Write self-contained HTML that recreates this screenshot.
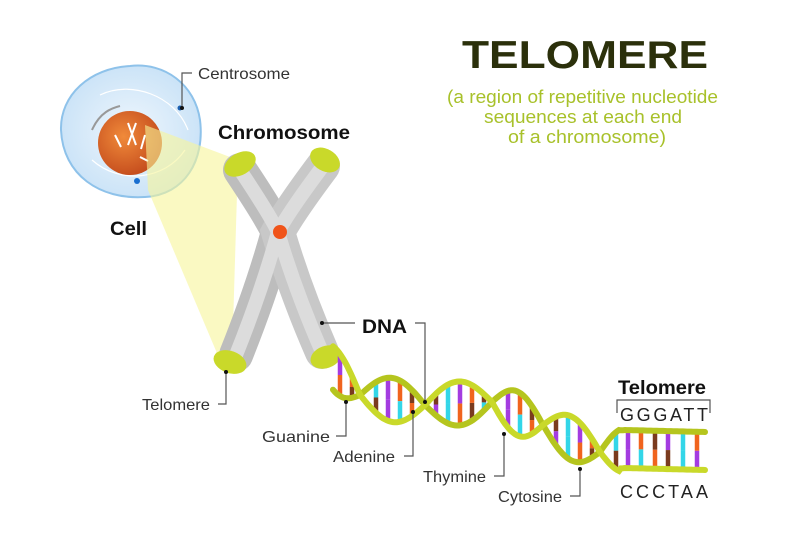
<!DOCTYPE html>
<html><head><meta charset="utf-8"><style>
html,body{margin:0;padding:0;background:#fff;width:800px;height:535px;overflow:hidden}
svg{display:block}
text{font-family:"Liberation Sans",Arial,sans-serif}
</style></head><body>
<svg id="s" width="800" height="535" viewBox="0 0 800 535" xmlns="http://www.w3.org/2000/svg">
<defs>
<radialGradient id="nuc" cx="0.4" cy="0.4" r="0.7"><stop offset="0" stop-color="#f08a3a"/><stop offset="1" stop-color="#c0461a"/></radialGradient>
<radialGradient id="cell" cx="0.5" cy="0.5" r="0.6"><stop offset="0" stop-color="#eef6fd"/><stop offset="1" stop-color="#c5e0f6"/></radialGradient>
</defs>
<text x="462" y="68" font-size="39" font-weight="bold" fill="#2b300b" textLength="246" lengthAdjust="spacingAndGlyphs">TELOMERE</text>
<g font-size="18" fill="#a8c12a">
<text x="447" y="103" textLength="271" lengthAdjust="spacingAndGlyphs">(a region of repetitive nucleotide</text>
<text x="484" y="123" textLength="198" lengthAdjust="spacingAndGlyphs">sequences at each end</text>
<text x="508" y="143" textLength="158" lengthAdjust="spacingAndGlyphs">of a chromosome)</text>
</g>
<path d="M130,66 C165,62 195,85 200,120 C205,160 185,195 145,197 C100,200 63,175 61,130 C60,95 90,68 130,66Z" fill="url(#cell)" stroke="#8ec2ea" stroke-width="2"/>
<path d="M100,95 C130,80 175,95 188,130" fill="none" stroke="#fff" stroke-width="1.2"/>
<path d="M92,160 C120,185 165,180 185,150" fill="none" stroke="#fff" stroke-width="1.2"/>
<circle cx="130" cy="143" r="32" fill="url(#nuc)"/>
<path d="M92,130 C100,112 112,108 120,106" fill="none" stroke="#999" stroke-width="2"/>
<g stroke="#fff" stroke-width="2" fill="none"><path d="M128,123 L136,145 M136,123 L128,145"/><path d="M115,135 l6,12 M145,135 l-4,14 M140,157 l8,4"/></g>
<circle cx="180" cy="108" r="2.5" fill="#1a5fb0"/>
<circle cx="137" cy="181" r="3" fill="#1a6fd0"/>
<polygon points="145,125 238,160 232,360 222,365 148,190" fill="#f7f59a" opacity="0.6"/>
<g stroke-linecap="round" fill="none">
<path d="M240,170 Q270,215 278,232 Q262,290 236,355" stroke="#bdbdbd" stroke-width="34"/>
<path d="M323,166 Q290,210 278,232 Q295,290 322,352" stroke="#c8c8c8" stroke-width="34"/>
<path d="M240,170 Q270,215 278,232 Q262,290 236,355 M323,166 Q290,210 278,232 Q295,290 322,352" stroke="#dcdcdc" stroke-width="14"/>
</g>
<g fill="#c9d92a"><ellipse cx="240" cy="164" rx="17" ry="11" transform="rotate(-30 240 164)"/><ellipse cx="325" cy="160" rx="16" ry="11" transform="rotate(30 325 160)"/><ellipse cx="230" cy="362" rx="17" ry="11" transform="rotate(20 230 362)"/><ellipse cx="326" cy="357" rx="16" ry="11" transform="rotate(-20 326 357)"/></g>
<circle cx="280" cy="232" r="7" fill="#f0541a"/>
<g id="dna"></g>
<g stroke="#555" stroke-width="1.2" fill="none">
<path d="M182,108 L182,73 L192,73"/>
<path d="M226,372 L226,404 L218,404"/>
<path d="M322,323 L355,323 M415,323 L425,323 L425,402"/>
<path d="M346,402 L346,436 L336,436"/>
<path d="M413,412 L413,456 L404,456"/>
<path d="M504,434 L504,476 L494,476"/>
<path d="M580,469 L580,496 L570,496"/>
<path d="M617,413 L617,400 L710,400 L710,413"/>
</g>
<g fill="#111"><circle cx="182" cy="108" r="2"/><circle cx="226" cy="372" r="2"/><circle cx="322" cy="323" r="2"/><circle cx="346" cy="402" r="2"/><circle cx="413" cy="412" r="2"/><circle cx="425" cy="402" r="2"/><circle cx="504" cy="434" r="2"/><circle cx="580" cy="469" r="2"/></g>
<g font-size="16" fill="#333">
<text x="198" y="79" textLength="92" lengthAdjust="spacingAndGlyphs">Centrosome</text>
<text x="142" y="410" textLength="68" lengthAdjust="spacingAndGlyphs">Telomere</text>
<text x="262" y="442" textLength="68" lengthAdjust="spacingAndGlyphs">Guanine</text>
<text x="333" y="462" textLength="62" lengthAdjust="spacingAndGlyphs">Adenine</text>
<text x="423" y="482" textLength="63" lengthAdjust="spacingAndGlyphs">Thymine</text>
<text x="498" y="502" textLength="64" lengthAdjust="spacingAndGlyphs">Cytosine</text>
</g>
<g font-size="19" font-weight="bold" fill="#111">
<text x="218" y="139" textLength="132" lengthAdjust="spacingAndGlyphs">Chromosome</text>
<text x="110" y="235" textLength="37" lengthAdjust="spacingAndGlyphs">Cell</text>
<text x="362" y="333" textLength="45" lengthAdjust="spacingAndGlyphs">DNA</text>
<text x="618" y="394" textLength="88" lengthAdjust="spacingAndGlyphs">Telomere</text>
</g>
<g font-size="18" fill="#222"><text x="620" y="421" textLength="88" lengthAdjust="spacing">GGGATT</text><text x="620" y="498" textLength="88" lengthAdjust="spacing">CCCTAA</text></g>
</svg>
<script>
(function(){
var g=document.getElementById('dna'),NS='http://www.w3.org/2000/svg';
var cx=[333,360,425,492,543,600,625,705],cy=[368,395,405,402,425,452,450,452];
var ph=[-0.55,0,1,2,3,4,4.5,4.5];
function at(x){for(var i=0;i<cx.length-1;i++){if(x<=cx[i+1]){var t=(x-cx[i])/(cx[i+1]-cx[i]);return [cy[i]+t*(cy[i+1]-cy[i]),ph[i]+t*(ph[i+1]-ph[i])];}}return [cy[cy.length-1],ph[ph.length-1]];}
var A=[],B=[];
for(var x=333;x<=705;x+=2){var r=at(x);var amp=22;var s=Math.sin(r[1]*Math.PI)*amp;if(x>=620){A.push([x,r[0]-20]);B.push([x,r[0]+18]);}else{A.push([x,r[0]-s]);B.push([x,r[0]+s]);}}
var cols=['#f0641e','#7a3b1e','#33d6e8','#a43ce0','#f0641e','#7a3b1e','#a43ce0','#33d6e8'];
var k=0;
var xs=[];for(var x=340;x<620;x+=12)xs.push(x);xs=xs.concat([628,641,655,668,683,697]);
xs.forEach(function(x){var r=at(x);var s=x>=620?20:Math.sin(r[1]*Math.PI)*22;if(Math.abs(s)<6)return;var y1=r[0]-s,y2=r[0]+(x>=620?18:s),m=(y1+y2)/2;var c=cols[k%8],c2=cols[(k+3)%8];k++;
var l=document.createElementNS(NS,'line');l.setAttribute('x1',x);l.setAttribute('y1',y1);l.setAttribute('x2',x);l.setAttribute('y2',m);l.setAttribute('stroke',c);l.setAttribute('stroke-width',4.5);g.appendChild(l);
l=document.createElementNS(NS,'line');l.setAttribute('x1',x);l.setAttribute('y1',m);l.setAttribute('x2',x);l.setAttribute('y2',y2);l.setAttribute('stroke',c2);l.setAttribute('stroke-width',4.5);g.appendChild(l);});
function pth(P,w,c){var d='M'+P.map(function(p){return p[0]+','+p[1].toFixed(1)}).join(' L');var p=document.createElementNS(NS,'path');p.setAttribute('d',d);p.setAttribute('fill','none');p.setAttribute('stroke',c);p.setAttribute('stroke-width',w);p.setAttribute('stroke-linecap','round');g.appendChild(p);}
pth(A,6,'#b5c51e');pth(B,6,'#c9d92a');
})();
</script>
</body></html>
